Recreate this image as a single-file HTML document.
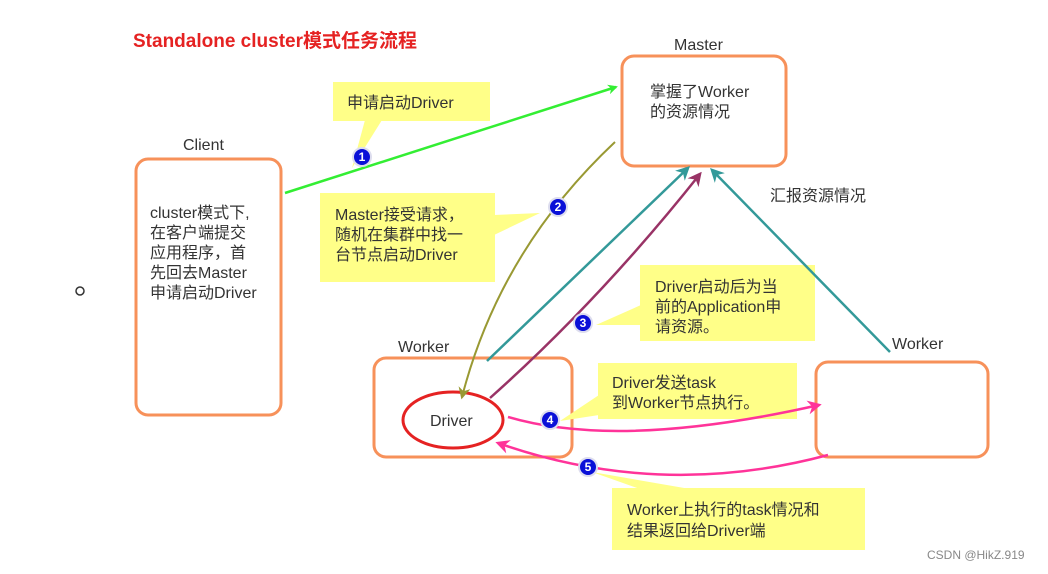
<!DOCTYPE html>
<html><head><meta charset="utf-8"><style>
body{margin:0;background:#fff;}
svg text{font-family:"Liberation Sans","Noto Sans CJK SC",sans-serif;fill:#333;font-size:16px;}
</style></head><body>
<svg width="1048" height="569" viewBox="0 0 1048 569" xmlns="http://www.w3.org/2000/svg">
<defs>
<marker id="ag" markerWidth="10" markerHeight="10" refX="8" refY="5" orient="auto" markerUnits="userSpaceOnUse" viewBox="0 0 10 10"><path d="M0,0 L10,5 L0,10 L3,5z" fill="#33ee33"/></marker>
<marker id="ao" markerWidth="12" markerHeight="12" refX="8" refY="5" orient="auto" markerUnits="userSpaceOnUse" viewBox="0 0 10 10"><path d="M0,0 L10,5 L0,10 L3,5z" fill="#999933"/></marker>
<marker id="at" markerWidth="14" markerHeight="14" refX="8" refY="5" orient="auto" markerUnits="userSpaceOnUse" viewBox="0 0 10 10"><path d="M0,0 L10,5 L0,10 L3,5z" fill="#339999"/></marker>
<marker id="ap" markerWidth="14" markerHeight="14" refX="8" refY="5" orient="auto" markerUnits="userSpaceOnUse" viewBox="0 0 10 10"><path d="M0,0 L10,5 L0,10 L3,5z" fill="#993366"/></marker>
<marker id="ak" markerWidth="14" markerHeight="14" refX="8" refY="5" orient="auto" markerUnits="userSpaceOnUse" viewBox="0 0 10 10"><path d="M0,0 L10,5 L0,10 L3,5z" fill="#ff3399"/></marker>
</defs>
<text x="133" y="47" style="fill:#e52222;font-weight:bold;font-size:19px">Standalone cluster模式任务流程</text>
<!-- boxes -->
<rect x="622" y="56" width="164" height="110" rx="12" fill="#fff" stroke="#f7915a" stroke-width="3"/>
<text x="674" y="50">Master</text>
<text x="650" y="97">掌握了Worker</text><text x="650" y="117">的资源情况</text>
<rect x="136" y="159" width="145" height="256" rx="12" fill="#fff" stroke="#f7915a" stroke-width="3"/>
<text x="183" y="150">Client</text>
<text x="150" y="218">cluster模式下,</text><text x="150" y="238">在客户端提交</text><text x="150" y="258">应用程序，首</text><text x="150" y="278">先回去Master</text><text x="150" y="298">申请启动Driver</text>
<rect x="374" y="358" width="198" height="99" rx="12" fill="#fff" stroke="#f7915a" stroke-width="3"/>
<text x="398" y="352">Worker</text>
<ellipse cx="453" cy="420" rx="50" ry="28" fill="#fff" stroke="#e52222" stroke-width="3"/>
<text x="430" y="426">Driver</text>
<rect x="816" y="362" width="172" height="95" rx="12" fill="#fff" stroke="#f7915a" stroke-width="3"/>
<text x="892" y="349">Worker</text>
<text x="770" y="201">汇报资源情况</text>
<circle cx="80" cy="291" r="4" fill="none" stroke="#333" stroke-width="1.5"/>
<!-- callouts -->
<g fill="#ffff88">
<rect x="333" y="82" width="157" height="39"/><path d="M365,120 L382,120 L352,168z"/>
<rect x="320" y="193" width="175" height="89"/><path d="M494,215 L494,235 L540,213z"/>
<rect x="640" y="265" width="175" height="76"/><path d="M641,305 L641,325 L596,325z"/>
<rect x="598" y="363" width="199" height="56"/><path d="M599,395 L599,415 L560,421z"/>
<rect x="612" y="488" width="253" height="62"/><path d="M640,489 L690,489 L592,472z"/>
</g>
<text x="347" y="108">申请启动Driver</text>
<text x="335" y="220">Master接受请求，</text><text x="335" y="240">随机在集群中找一</text><text x="335" y="260">台节点启动Driver</text>
<text x="655" y="292">Driver启动后为当</text><text x="655" y="312">前的Application申</text><text x="655" y="332">请资源。</text>
<text x="612" y="388">Driver发送task</text><text x="612" y="408">到Worker节点执行。</text>
<text x="627" y="515">Worker上执行的task情况和</text><text x="627" y="536">结果返回给Driver端</text>
<!-- arrows -->
<line x1="285" y1="193" x2="616" y2="87" stroke="#33ee33" stroke-width="2.5" marker-end="url(#ag)"/>
<path d="M615,142 Q500,250 462,397" fill="none" stroke="#999933" stroke-width="2" marker-end="url(#ao)"/>
<line x1="487" y1="361" x2="688" y2="168" stroke="#339999" stroke-width="2.5" marker-end="url(#at)"/>
<path d="M490,398 Q600,300 700,174" fill="none" stroke="#993366" stroke-width="2.5" marker-end="url(#ap)"/>
<line x1="890" y1="352" x2="712" y2="170" stroke="#339999" stroke-width="2.5" marker-end="url(#at)"/>
<path d="M508,417 Q620,450 819,405" fill="none" stroke="#ff3399" stroke-width="2.5" marker-end="url(#ak)"/>
<path d="M828,455 Q660,500 498,443" fill="none" stroke="#ff3399" stroke-width="2.5" marker-end="url(#ak)"/>
<!-- badges -->
<g fill="#0a10d8" stroke="#dde" stroke-width="2">
<circle cx="362" cy="157" r="9"/><circle cx="558" cy="207" r="9"/><circle cx="583" cy="323" r="9"/><circle cx="550" cy="420" r="9"/><circle cx="588" cy="467" r="9"/>
</g>
<g style="font-size:12px;font-weight:bold" text-anchor="middle">
<text x="362" y="161" style="fill:#fff;font-size:12px;font-weight:bold">1</text>
<text x="558" y="211" style="fill:#fff;font-size:12px;font-weight:bold">2</text>
<text x="583" y="327" style="fill:#fff;font-size:12px;font-weight:bold">3</text>
<text x="550" y="424" style="fill:#fff;font-size:12px;font-weight:bold">4</text>
<text x="588" y="471" style="fill:#fff;font-size:12px;font-weight:bold">5</text>
</g>
<text x="927" y="559" style="font-size:12px;fill:#888">CSDN @HikZ.919</text>
</svg>
</body></html>
